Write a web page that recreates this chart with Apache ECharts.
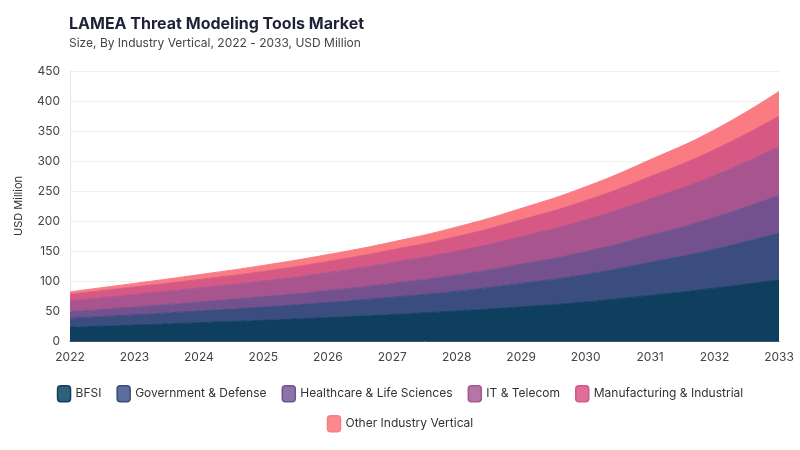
<!DOCTYPE html>
<html>
<head>
<meta charset="utf-8">
<script src="https://cdn.jsdelivr.net/npm/echarts@6/dist/echarts.min.js"></script>
<style>html,body{margin:0;padding:0;background:#fff}#c{width:800px;height:450px}</style>
</head>
<body>
<div id="c"></div>
<script>
const years = ['2022','2023','2024','2025','2026','2027','2028','2029','2030','2031','2032','2033'];
const bfsi = [23, 26.5, 30.5, 34.5, 39, 44, 50, 57, 65, 76, 88, 102];
const government = [15, 17, 19.5, 22, 25, 29, 33, 39, 46, 55, 65, 78];
const healthcare = [11, 13, 15, 17.5, 20, 23, 27, 32, 38, 45, 53, 63];
const itTelecom = [18, 21, 23.5, 26, 30, 35, 40, 46, 53, 61, 70, 81];
const manufacturing = [11, 12.5, 14, 16, 18.5, 21, 24, 28, 32, 37, 43, 51];
const other = [4, 6, 8, 10, 11.5, 13, 16, 19, 23, 28, 33, 41];

const seriesNames = ['BFSI','Government & Defense','Healthcare & Life Sciences','IT & Telecom','Manufacturing & Industrial','Other Industry Vertical'];
const seriesData = [bfsi, government, healthcare, itTelecom, manufacturing, other];
const colors = ['#0e3f5f','#3b4c7e','#73518e','#a8548f','#d65884','#fb7b83'];
const legendColors = ['#2e6079','#5a6f9b','#8873aa','#b276a8','#dd6f98','#fb8a8f'];

const legendBase = {
  left: 'center', orient: 'horizontal',
  icon: 'roundRect', itemWidth: 13, itemHeight: 16, itemGap: 15,
  textStyle: {fontFamily: 'Inter', fontSize: 12, color: '#333'}
};
const legendItem = (i) => ({name: seriesNames[i], itemStyle: {color: legendColors[i], borderColor: colors[i], borderWidth: 1.5}});

const chart = echarts.init(document.getElementById('c'));
chart.setOption({
  animation: false,
  color: colors,
  title: {
    text: 'LAMEA Threat Modeling Tools Market',
    subtext: 'Size, By Industry Vertical, 2022 - 2033, USD Million',
    left: 64, top: 11,
    textStyle: {fontFamily: 'Inter', fontSize: 16, fontWeight: 'bold', color: '#1f2235'},
    subtextStyle: {fontFamily: 'Inter', fontSize: 12, color: '#444'},
    itemGap: 5
  },
  legend: [
    Object.assign({}, legendBase, {top: 380, data: [0,1,2,3,4].map(legendItem)}),
    Object.assign({}, legendBase, {top: 410, data: [5].map(legendItem)})
  ],
  grid: {left: 70, right: 21, top: 71, bottom: 109, containLabel: false},
  xAxis: {
    type: 'category', data: years, boundaryGap: false,
    axisLine: {lineStyle: {color: '#44546a'}},
    axisTick: {show: false},
    axisLabel: {fontFamily: 'Inter', fontSize: 12, color: '#444', margin: 10}
  },
  yAxis: {
    type: 'value', min: 0, max: 450, interval: 50,
    name: 'USD Million', nameLocation: 'middle', nameGap: 46,
    nameTextStyle: {fontFamily: 'Inter', fontSize: 11, color: '#333'},
    axisLine: {show: true, lineStyle: {color: '#e6e6e6'}},
    axisLabel: {fontFamily: 'Inter', fontSize: 12, color: '#444', margin: 10},
    splitLine: {lineStyle: {color: '#f0f0f0'}}
  },
  series: seriesNames.map((n, i) => ({
    name: n, type: 'line', stack: 'total', smooth: true, symbol: 'none',
    data: seriesData[i],
    lineStyle: {width: 1, color: colors[i]},
    areaStyle: {color: colors[i], opacity: 1}
  }))
});
</script>
</body>
</html>
